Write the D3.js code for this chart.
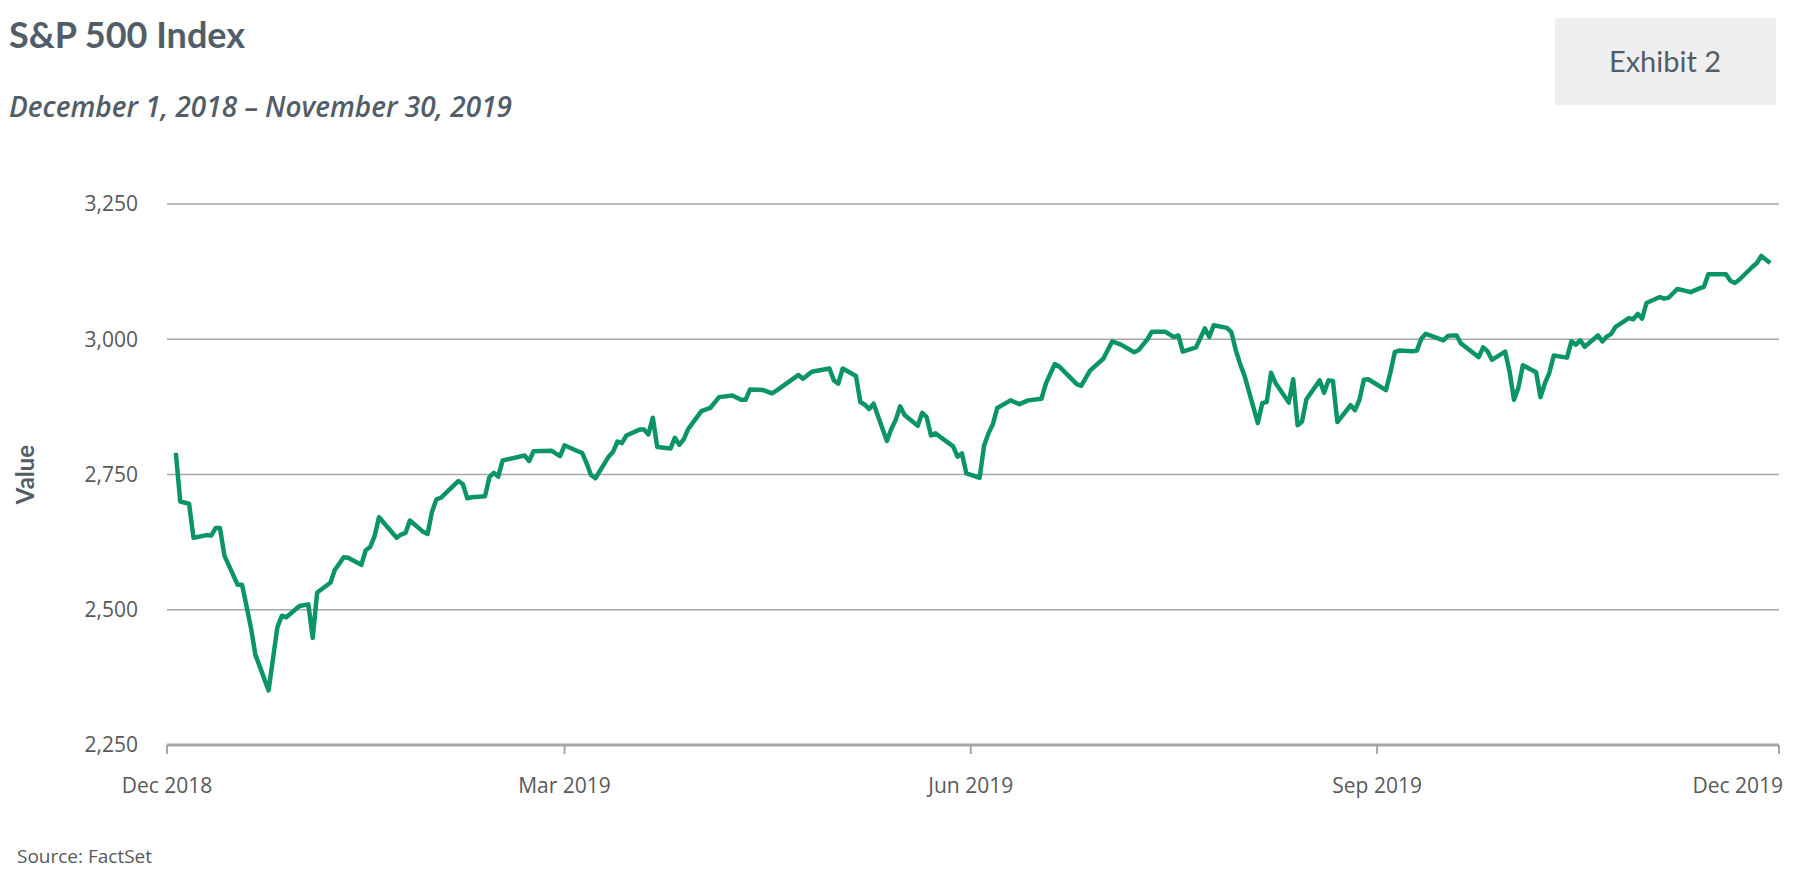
<!DOCTYPE html>
<html>
<head>
<meta charset="utf-8">
<script src="https://cdn.jsdelivr.net/npm/d3@7"></script>
<style>
  body { margin: 0; background: #fff; }
  svg { font-family: 'Open Sans', sans-serif; }
</style>
</head>
<body>
<svg id="chart" width="1799" height="879"></svg>
<script>
let dates = ['2018-12-03','2018-12-04','2018-12-06','2018-12-07','2018-12-10','2018-12-11','2018-12-12','2018-12-13','2018-12-14','2018-12-17','2018-12-18','2018-12-19','2018-12-20','2018-12-21','2018-12-24','2018-12-26','2018-12-27','2018-12-28','2018-12-31',
  '2019-01-02','2019-01-03','2019-01-04','2019-01-07','2019-01-08','2019-01-09','2019-01-10','2019-01-11','2019-01-14','2019-01-15','2019-01-16','2019-01-17','2019-01-18','2019-01-22','2019-01-23','2019-01-24','2019-01-25','2019-01-28','2019-01-29','2019-01-30','2019-01-31',
  '2019-02-01','2019-02-05','2019-02-06','2019-02-07','2019-02-08','2019-02-11','2019-02-12','2019-02-13','2019-02-14','2019-02-15','2019-02-20','2019-02-21','2019-02-22','2019-02-26','2019-02-28',
  '2019-03-01','2019-03-04','2019-03-05','2019-03-06','2019-03-07','2019-03-08','2019-03-11','2019-03-12','2019-03-13','2019-03-14','2019-03-15','2019-03-18','2019-03-19','2019-03-20','2019-03-21','2019-03-22','2019-03-25','2019-03-26','2019-03-27','2019-03-28','2019-03-29',
  '2019-04-01','2019-04-03','2019-04-05','2019-04-08','2019-04-10','2019-04-11','2019-04-12','2019-04-15','2019-04-17','2019-04-18','2019-04-23','2019-04-24','2019-04-26','2019-04-30',
  '2019-05-01','2019-05-02','2019-05-03','2019-05-06','2019-05-07','2019-05-08','2019-05-09','2019-05-10','2019-05-13','2019-05-14','2019-05-15','2019-05-16','2019-05-17','2019-05-20','2019-05-21','2019-05-22','2019-05-23','2019-05-24','2019-05-28','2019-05-29','2019-05-30','2019-05-31',
  '2019-06-03','2019-06-04','2019-06-05','2019-06-06','2019-06-07','2019-06-10','2019-06-12','2019-06-14','2019-06-17','2019-06-18','2019-06-20','2019-06-21','2019-06-25','2019-06-26','2019-06-28',
  '2019-07-01','2019-07-03','2019-07-05','2019-07-08','2019-07-09','2019-07-11','2019-07-12','2019-07-15','2019-07-17','2019-07-18','2019-07-19','2019-07-22','2019-07-24','2019-07-25','2019-07-26','2019-07-29','2019-07-30','2019-07-31',
  '2019-08-01','2019-08-02','2019-08-05','2019-08-06','2019-08-07','2019-08-08','2019-08-09','2019-08-12','2019-08-13','2019-08-14','2019-08-15','2019-08-16','2019-08-19','2019-08-20','2019-08-21','2019-08-22','2019-08-23','2019-08-26','2019-08-27','2019-08-28','2019-08-29','2019-08-30',
  '2019-09-03','2019-09-04','2019-09-05','2019-09-06','2019-09-09','2019-09-10','2019-09-11','2019-09-12','2019-09-13','2019-09-16','2019-09-17','2019-09-18','2019-09-19','2019-09-20','2019-09-24','2019-09-25','2019-09-26','2019-09-27','2019-09-30',
  '2019-10-01','2019-10-02','2019-10-03','2019-10-04','2019-10-07','2019-10-08','2019-10-09','2019-10-10','2019-10-11','2019-10-14','2019-10-15','2019-10-16','2019-10-17','2019-10-18','2019-10-21','2019-10-22','2019-10-23','2019-10-24','2019-10-25','2019-10-28','2019-10-29','2019-10-30','2019-10-31',
  '2019-11-01','2019-11-04','2019-11-05','2019-11-06','2019-11-07','2019-11-08','2019-11-11','2019-11-13','2019-11-14','2019-11-15','2019-11-19','2019-11-20','2019-11-21','2019-11-22','2019-11-25','2019-11-26','2019-11-27','2019-11-29']

let values = [2790, 2700, 2696, 2633, 2638, 2637, 2651, 2651, 2600, 2546, 2546, 2507, 2467, 2417, 2351, 2468, 2489, 2486, 2507,
  2510, 2448, 2532, 2550, 2574, 2585, 2597, 2596, 2583, 2610, 2616, 2636, 2671, 2633, 2639, 2642, 2665, 2644, 2640, 2681, 2704,
  2707, 2738, 2732, 2706, 2708, 2710, 2745, 2753, 2746, 2776, 2785, 2775, 2793, 2794, 2784,
  2804, 2793, 2790, 2771, 2749, 2743, 2783, 2792, 2811, 2808, 2822, 2833, 2833, 2824, 2855, 2801, 2798, 2818, 2805, 2815, 2834,
  2867, 2873, 2893, 2896, 2888, 2888, 2907, 2906, 2900, 2905, 2934, 2927, 2940, 2946,
  2924, 2918, 2946, 2932, 2884, 2879, 2871, 2881, 2812, 2834, 2851, 2876, 2860, 2840, 2864, 2856, 2822, 2826, 2802, 2783, 2789, 2752,
  2744, 2803, 2826, 2843, 2873, 2887, 2880, 2887, 2890, 2918, 2954, 2950, 2917, 2914, 2942,
  2964, 2996, 2990, 2976, 2980, 3000, 3014, 3014, 3004, 3007, 2977, 2985, 3020, 3004, 3026, 3021, 3013, 2980,
  2954, 2932, 2845, 2882, 2884, 2938, 2919, 2883, 2926, 2841, 2848, 2889, 2924, 2901, 2924, 2923, 2847, 2878, 2869, 2888, 2925, 2926,
  2906, 2938, 2976, 2979, 2978, 2979, 3001, 3010, 3007, 2998, 3006, 3007, 3007, 2992, 2967, 2985, 2978, 2962, 2977,
  2940, 2888, 2911, 2952, 2939, 2893, 2919, 2938, 2970, 2966, 2996, 2990, 2998, 2986, 3007, 2996, 3005, 3010, 3023, 3039, 3037, 3047, 3038,
  3067, 3078, 3075, 3077, 3085, 3093, 3087, 3094, 3097, 3120, 3120, 3108, 3104, 3110, 3134, 3141, 3154, 3141]

let yTicks = [2250, 2500, 2750, 3000, 3250]
let xTicks = ['2018-12-01', '2019-03-01', '2019-06-01', '2019-09-01', '2019-12-01']

let parse = d3.timeParse('%Y-%m-%d')
let data = dates.map((d, i) => ({date: parse(d), value: values[i]}))

let svg = d3.select('#chart')
let plotLeft = 167
let plotRight = 1779
let plotTop = 204
let plotBottom = 745

let x = d3.scaleTime()
  .domain([parse('2018-12-01'), parse('2019-12-01')])
  .range([plotLeft, plotRight])

let y = d3.scaleLinear()
  .domain([2250, 3250])
  .range([plotBottom, plotTop])

// titles
svg.append('text').attr('x', 9).attr('y', 48)
  .attr('font-family', 'Lato, sans-serif').attr('font-weight', 700).attr('font-size', 36)
  .attr('fill', '#525d68').text('S&P 500 Index')
svg.append('text').attr('x', 9).attr('y', 117)
  .attr('font-style', 'italic').attr('font-weight', 600).attr('font-size', 28)
  .attr('fill', '#525d68').text('December 1, 2018 – November 30, 2019')

svg.append('rect').attr('x', 1555).attr('y', 18).attr('width', 221).attr('height', 87).attr('fill', '#efefef')
svg.append('text').attr('x', 1665).attr('y', 72).attr('text-anchor', 'middle')
  .attr('font-family', 'Lato, sans-serif').attr('font-size', 29).attr('fill', '#525d68').text('Exhibit 2')

// grid
svg.selectAll('line.grid')
  .data(yTicks.slice(1))
  .enter().append('line')
  .attr('class', 'grid')
  .attr('x1', plotLeft).attr('x2', plotRight)
  .attr('y1', d => y(d)).attr('y2', d => y(d))
  .attr('stroke', '#a6a6a6').attr('stroke-width', 1.5)

svg.selectAll('text.ytick')
  .data(yTicks)
  .enter().append('text')
  .attr('class', 'ytick')
  .attr('x', plotLeft - 29).attr('y', d => y(d))
  .attr('dy', '0.35em').attr('text-anchor', 'end')
  .attr('font-size', 21).attr('fill', '#595959')
  .text(d => d3.format(',')(d))

// x axis
svg.append('line').attr('x1', plotLeft).attr('x2', plotRight)
  .attr('y1', plotBottom).attr('y2', plotBottom)
  .attr('stroke', '#a6a6a6').attr('stroke-width', 3)

svg.selectAll('line.xtick')
  .data(xTicks)
  .enter().append('line')
  .attr('class', 'xtick')
  .attr('x1', d => x(parse(d))).attr('x2', d => x(parse(d)))
  .attr('y1', plotBottom).attr('y2', plotBottom + 9)
  .attr('stroke', '#a6a6a6').attr('stroke-width', 2)

svg.selectAll('text.xtick')
  .data(xTicks)
  .enter().append('text')
  .attr('class', 'xtick')
  .attr('x', d => x(parse(d))).attr('y', 793)
  .attr('text-anchor', (d, i) => i === xTicks.length - 1 ? 'end' : 'middle')
  .attr('dx', (d, i) => i === xTicks.length - 1 ? 4 : 0)
  .attr('font-size', 21).attr('fill', '#595959')
  .text(d => d3.timeFormat('%b %Y')(parse(d)))

svg.append('text')
  .attr('transform', 'translate(34,' + ((plotTop + plotBottom) / 2) + ') rotate(-90)')
  .attr('text-anchor', 'middle')
  .attr('font-family', 'Lato, sans-serif').attr('font-weight', 700).attr('font-size', 24)
  .attr('fill', '#525d68').text('Value')

// line
let line = d3.line()
  .x(d => x(d.date))
  .y(d => y(d.value))

svg.append('path')
  .datum(data)
  .attr('d', line)
  .attr('fill', 'none')
  .attr('stroke', '#0b9466')
  .attr('stroke-width', 4.5)
  .attr('stroke-linejoin', 'round')

svg.append('text').attr('x', 17).attr('y', 863)
  .attr('font-size', 19).attr('fill', '#595959').text('Source: FactSet')
</script>
